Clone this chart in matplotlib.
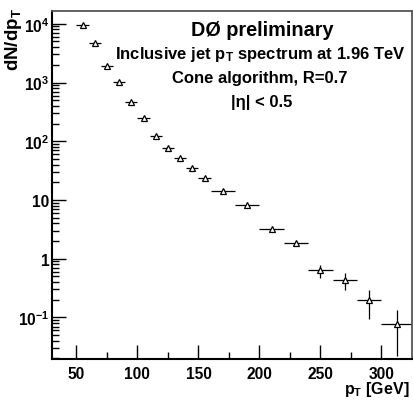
import matplotlib
matplotlib.use("Agg")
import matplotlib.pyplot as plt
from matplotlib.ticker import LogLocator, FixedLocator, NullFormatter, FixedFormatter

plt.rcParams['font.family'] = ['Liberation Sans', 'DejaVu Sans']
plt.rcParams['font.weight'] = 'bold'
plt.rcParams['mathtext.fontset'] = 'custom'
plt.rcParams['mathtext.rm'] = 'Liberation Sans:bold'
plt.rcParams['mathtext.bf'] = 'Liberation Sans:bold'
plt.rcParams['mathtext.it'] = 'Liberation Sans:bold'
plt.rcParams['mathtext.default'] = 'bf'

# Data: bin centers, half widths, values, errors
pt = [55, 65, 75, 85, 95, 105, 115, 125, 135, 145, 155, 170, 190, 210, 230, 250, 270, 290, 312.5]
pt_halfwidth = [5, 5, 5, 5, 5, 5, 5, 5, 5, 5, 5, 10, 10, 10, 10, 10, 10, 10, 12.5]
dndpt = [9500, 4700, 1900, 1040, 470, 250, 125, 77, 52, 35, 23.5, 14.0, 8.3, 3.25, 1.85, 0.63, 0.435, 0.195, 0.077]
dndpt_err = [40, 25, 12, 8, 5, 3, 2, 1.3, 1.0, 0.8, 0.6, 0.4, 0.3, 0.17, 0.14, 0.16, 0.14, 0.10, 0.055]

xticks = [50, 100, 150, 200, 250, 300]
yticks = [0.1, 1, 10, 100, 1000, 10000]
ytick_labels = ['$10^{-1}$', '1', '10', '$10^{2}$', '$10^{3}$', '$10^{4}$']

fig = plt.figure(figsize=(4.13, 4.02), dpi=100)
ax = fig.add_axes([52/413, 42/402, 360/413, 348/402])

ax.errorbar(pt, dndpt, xerr=pt_halfwidth, yerr=dndpt_err, fmt='^', mfc='white',
            mec='black', ms=5, mew=0.9, ecolor='black', elinewidth=0.9, capsize=0)

ax.set_yscale('log')
ax.set_xlim(30, 325)
ax.set_ylim(0.0196, 1.65e4)

ax.xaxis.set_major_locator(FixedLocator(xticks))
ax.xaxis.set_minor_locator(FixedLocator([75, 125, 175, 225, 275]))
ax.set_xticklabels([str(t) for t in xticks])
ax.yaxis.set_major_locator(FixedLocator(yticks))
ax.yaxis.set_major_formatter(FixedFormatter(ytick_labels))
ax.yaxis.set_minor_locator(LogLocator(base=10, subs=range(2, 10), numticks=20))
ax.yaxis.set_minor_formatter(NullFormatter())

ax.tick_params(axis='both', which='major', direction='in', length=10, width=1.0,
               labelsize=11.2, top=False, right=False)
ax.tick_params(axis='both', which='minor', direction='in', length=5, width=1.0,
               top=False, right=False)
ax.tick_params(axis='x', which='major', pad=5)
ax.tick_params(axis='y', which='major', pad=2)

for s in ['left', 'bottom']:
    ax.spines[s].set_linewidth(1.5)
    ax.spines[s].set_color('black')
for s in ['top', 'right']:
    ax.spines[s].set_linewidth(1.3)
    ax.spines[s].set_color('#555555')

fig.text(262/413, 1 - 31/402, 'DØ preliminary', ha='center', va='center', fontsize=14.3, fontweight='bold')
fig.text(260/413, 1 - 55/402, 'Inclusive jet p$_{\\mathbf{T}}$ spectrum at 1.96 TeV', ha='center', va='center', fontsize=12, fontweight='bold')
fig.text(260/413, 1 - 79/402, 'Cone algorithm, R=0.7', ha='center', va='center', fontsize=12, fontweight='bold')
fig.text(262/413, 1 - 102/402, '|η| < 0.5', ha='center', va='center', fontsize=12, fontweight='bold')

fig.text(13/413, 1 - 8/402, 'dN/dp$_{\\mathbf{T}}$', rotation=90, ha='center', va='top', fontsize=13.5, fontweight='bold')
fig.text(410/413, 1 - 390/402, 'p$_{\\mathbf{T}}$ [GeV]', ha='right', va='center', fontsize=11.5, fontweight='bold')

fig.savefig('out.png', dpi=100)
